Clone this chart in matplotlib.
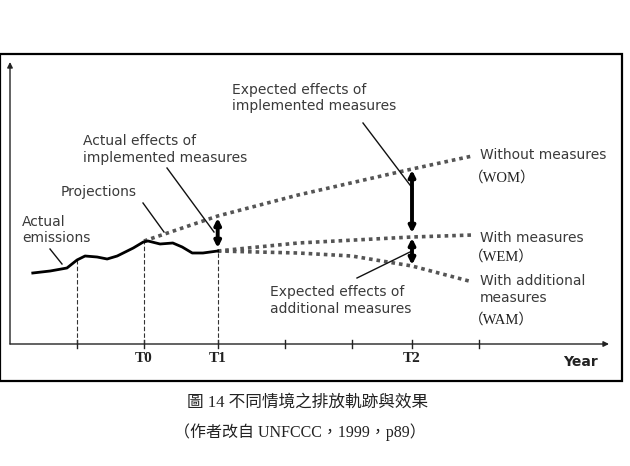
import numpy as np
import matplotlib
matplotlib.use("Agg")
import matplotlib.pyplot as plt
from matplotlib.patches import Rectangle

# ---------------- data (time units / emission level units) ----------------
actual_t = [0.34, 0.60, 0.85, 1.00, 1.12, 1.30, 1.45, 1.60, 1.84, 1.99, 2.06,
            2.24, 2.43, 2.57, 2.72, 2.88, 3.10]
actual_v = [7.1, 7.3, 7.6, 8.4, 8.8, 8.7, 8.5, 8.8, 9.6, 10.2, 10.3,
            10.0, 10.1, 9.7, 9.1, 9.1, 9.3]

wom_t = [2.0, 3.1, 4.3, 6.0, 6.9]
wom_v = [10.3, 12.8, 14.9, 17.5, 18.8]

wem_t = [3.1, 4.3, 6.0, 6.9]
wem_v = [9.3, 10.1, 10.7, 10.9]

wam_t = [3.1, 4.3, 5.1, 6.0, 6.85]
wam_v = [9.3, 9.1, 8.8, 7.8, 6.3]

tick_t = [1.0, 2.0, 3.1, 4.1, 5.1, 6.0, 7.0]
tick_labels = ["", "T0", "T1", "", "", "T2", ""]
guide_t = [1.0, 2.0, 3.1]          # dashed verticals

# ---------------- figure ----------------
W, H = 630, 466
fig = plt.figure(figsize=(W / 100, H / 100), dpi=100)
ax = fig.add_axes([0, 0, 1, 1])
# linear mapping: px = 10 + 67*t ; py = 344 - 10*v
ax.set_xlim(-10 / 67, (W - 10) / 67)
ax.set_ylim((344 - H) / 10, 344 / 10)
ax.axis("off")

def tx(px):
    return (px - 10) / 67

def ly(py):
    return (344 - py) / 10

sans = "DejaVu Sans"
serif_cjk = ["Liberation Serif", "Noto Sans CJK TC"]
txtc = "#3a3a3a"

# frame
fig.patches.append(Rectangle((0 / W, 1 - 381 / H), 622 / W, (381 - 54) / H,
                             transform=fig.transFigure, fill=False,
                             edgecolor="black", lw=1.6))

# axes with arrows
ax.annotate("", xy=(tx(10), ly(62)), xytext=(tx(10), ly(344)),
            arrowprops=dict(arrowstyle="-|>", lw=1.0, color="#222222",
                            mutation_scale=8, shrinkA=0, shrinkB=0))
ax.annotate("", xy=(tx(609), ly(344)), xytext=(tx(10), ly(344)),
            arrowprops=dict(arrowstyle="-|>", lw=1.0, color="#222222",
                            mutation_scale=8, shrinkA=0, shrinkB=0))

# ticks
for t, lab in zip(tick_t, tick_labels):
    ax.plot([t, t], [ly(340), ly(348)], color="#222222", lw=1.0)
    if lab:
        ax.text(t, ly(358), lab, ha="center", va="center", fontsize=11,
                fontweight="bold", family="Liberation Serif", color="#222222")
ax.text(tx(580), ly(362), "Year", ha="center", va="center", fontsize=10,
        fontweight="bold", family=sans, color="#222222")

# dashed guide lines
for t in guide_t:
    top = np.interp(t, actual_t, actual_v)
    ax.plot([t, t], [0, top], color="#333333", lw=0.8, ls=(0, (4, 2)))

# scenario dotted lines
dot = dict(color="#555555", lw=2.6, ls=(0, (1, 1.1)), solid_capstyle="butt")
ax.plot(wom_t, wom_v, **dot)
ax.plot(wem_t, wem_v, **dot)
ax.plot(wam_t, wam_v, **dot)

# actual emissions
ax.plot(actual_t, actual_v, color="black", lw=2.0, solid_joinstyle="round")

# thick double arrows
arr = dict(arrowstyle="<|-|>", lw=2.8, color="black", mutation_scale=9,
           shrinkA=0, shrinkB=0)
ax.annotate("", xy=(3.1, 12.6), xytext=(3.1, 9.6), arrowprops=arr)
ax.annotate("", xy=(6.0, 17.4), xytext=(6.0, 11.1), arrowprops=arr)
ax.annotate("", xy=(6.0, 10.6), xytext=(6.0, 7.9), arrowprops=arr)

# leader lines
leaders = [((50, 249), (62, 264)),
           ((143, 203), (164, 232)),
           ((167, 168), (214, 232)),
           ((363, 123), (413, 189)),
           ((357, 278), (412, 251))]
for (x0, y0), (x1, y1) in leaders:
    ax.plot([tx(x0), tx(x1)], [ly(y0), ly(y1)], color="#111111", lw=1.0)

# annotation texts
def lab(px, py, s, **kw):
    ax.text(tx(px), ly(py), s, ha="left", va="center", fontsize=10,
            family=sans, color=txtc, **kw)

lab(232, 90, "Expected effects of")
lab(232, 106, "implemented measures")
lab(83, 141, "Actual effects of")
lab(83, 158, "implemented measures")
lab(61, 192, "Projections")
lab(22, 222, "Actual")
lab(22, 238, "emissions")
lab(270, 292, "Expected effects of")
lab(270, 309, "additional measures")
lab(480, 155, "Without measures")
lab(480, 238, "With measures")
lab(480, 281, "With additional")
lab(480, 298, "measures")

for py, s in [(178, "（WOM）"), (257, "（WEM）"), (320, "（WAM）")]:
    ax.text(tx(469), ly(py), s, ha="left", va="center", fontsize=10.5,
            family=serif_cjk, color="#222222")

# caption
fig.text(308 / W, 1 - 403 / H, "圖 14 不同情境之排放軌跡與效果", ha="center",
         va="center", fontsize=12, family=serif_cjk, color="#222222")
fig.text(300 / W, 1 - 432 / H, "（作者改自 UNFCCC，1999，p89）", ha="center",
         va="center", fontsize=11.5, family=serif_cjk, color="#222222")

fig.savefig("out.png", dpi=100)
